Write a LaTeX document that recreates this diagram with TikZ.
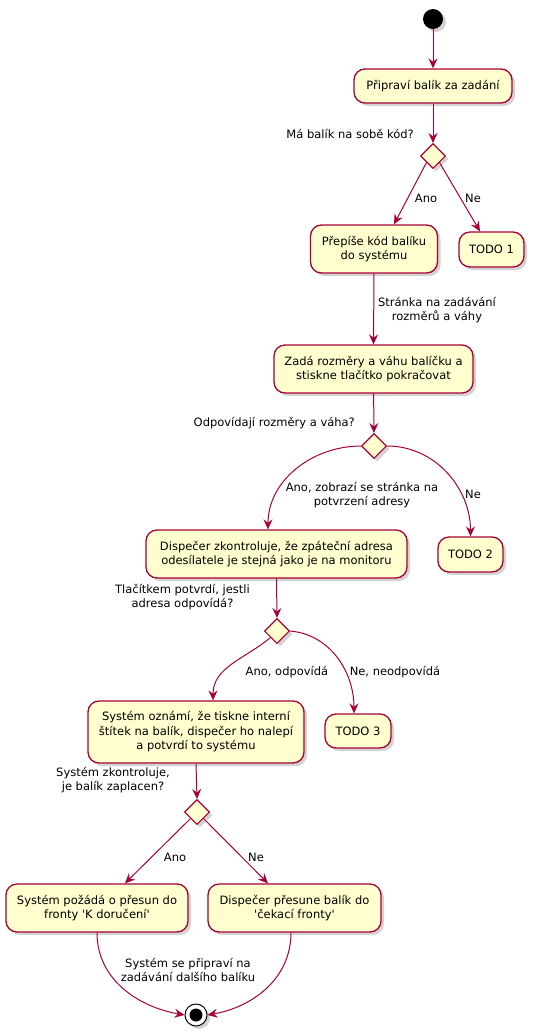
\documentclass[tikz,border=0pt]{standalone}
\usepackage{fontspec}
\setmainfont{DejaVu Sans}
\usetikzlibrary{shapes.geometric,arrows.meta,shadows}
\definecolor{pborder}{HTML}{A80036}
\definecolor{pfill}{HTML}{FEFECE}
\tikzset{
  act/.style={draw=pborder, fill=pfill, line width=1.3pt, rounded corners=11pt, align=center,
    inner sep=0pt, font=\fontsize{11.5}{14.5}\selectfont,
    drop shadow={opacity=0.35, shadow xshift=3pt, shadow yshift=-3pt}},
  decis/.style={diamond, draw=pborder, fill=pfill, line width=1.1pt, minimum width=25pt, minimum height=25pt,
    inner sep=0pt, drop shadow={opacity=0.35, shadow xshift=3pt, shadow yshift=-3pt}},
  conn/.style={draw=pborder, line width=1pt, -{Stealth[length=10pt,width=9pt,inset=3.5pt]}},
  lbl/.style={align=center, inner sep=0pt, font=\fontsize{11.5}{14.5}\selectfont},
}
\begin{document}
\begin{tikzpicture}[x=1pt,y=-1pt]
\useasboundingbox (0,0) rectangle (544,1034);
% start
\node[circle, fill=black, minimum size=20pt, inner sep=0pt, drop shadow={opacity=0.35, shadow xshift=3pt, shadow yshift=-3pt}] (start) at (433,19) {};
\node[act, minimum width=158pt, minimum height=34pt] (b1) at (433,86) {Připraví balík za zadání};
\node[decis] (d1) at (433,156) {};
\node[lbl, anchor=east] (q1) at (414,134) {Má balík na sobě kód?};
\node[act, minimum width=127pt, minimum height=48pt] (b2) at (374,249) {Přepíše kód balíku\\do systému};
\node[act, minimum width=65pt, minimum height=35pt] (t1) at (491.5,249.5) {TODO 1};
\node[lbl] (l1a) at (426,198) {Ano};
\node[lbl] (l1b) at (473,198) {Ne};
\node[lbl] (l2) at (437,310) {Stránka na zadávání\\rozměrů a váhy};
\node[act, minimum width=199pt, minimum height=48pt] (b3) at (373.5,369) {Zadá rozměry a váhu balíčku a\\stiskne tlačítko pokračovat};
\node[decis] (d2) at (374,446) {};
\node[lbl, anchor=east] (q2) at (355,423) {Odpovídají rozměry a váha?};
\node[act, minimum width=261pt, minimum height=48pt] (b4) at (276.5,554) {Dispečer zkontroluje, že zpáteční adresa\\odesílatele je stejná jako je na monitoru};
\node[act, minimum width=65pt, minimum height=35pt] (t2) at (470.5,554.5) {TODO 2};
\node[lbl] (l3a) at (362,495) {Ano, zobrazí se stránka na\\potvrzení adresy};
\node[lbl] (l3b) at (473,494) {Ne};
\node[lbl] (q3) at (182.5,597) {Tlačítkem potvrdí, jestli\\adresa odpovídá?};
\node[decis] (d3) at (277,631) {};
\node[act, minimum width=216pt, minimum height=62pt] (b5) at (196,732) {Systém oznámí, že tiskne interní\\štítek na balík, dispečer ho nalepí\\a potvrdí to systému};
\node[act, minimum width=66pt, minimum height=34pt] (t3) at (358,731) {TODO 3};
\node[lbl] (l4a) at (287,672) {Ano, odpovídá};
\node[lbl] (l4b) at (395,672) {Ne, neodpovídá};
\node[lbl] (q4) at (113,780) {Systém zkontroluje,\\je balík zaplacen?};
\node[decis] (d4) at (197,812) {};
\node[lbl] (l5a) at (175,857) {Ano};
\node[lbl] (l5b) at (256,857) {Ne};
\node[act, minimum width=182pt, minimum height=48pt] (b6) at (97,908) {Systém požádá o přesun do\\fronty \textquotesingle K doručení\textquotesingle};
\node[act, minimum width=173pt, minimum height=48pt] (b7) at (294.5,908) {Dispečer přesune balík do\\\textquotesingle čekací fronty\textquotesingle};
\node[lbl] (l6) at (188,970) {Systém se připraví na\\zadávání dalšího balíku};
% end
\node[circle, draw=black, fill=white, line width=1pt, minimum size=22pt, inner sep=0pt, drop shadow={opacity=0.35, shadow xshift=3pt, shadow yshift=-3pt}] (end) at (196,1015) {};
\fill[black] (end.center) circle (6.5pt);
% connectors
\draw[conn] (start) -- (b1);
\draw[conn] (b1) -- (d1);
\draw[conn] (d1.south west) -- ([xshift=20pt]b2.north);
\draw[conn] (d1.south east) -- ([xshift=-11.5pt]t1.north);
\draw[conn] (b2.south) -- (b3.north);
\draw[conn] (b3) -- (d2);
\draw[conn] (d2.west) to[out=180,in=90] ([xshift=-8.5pt]b4.north);
\draw[conn] (d2.east) to[out=0,in=90] (t2.north);
\draw[conn] (b4.south) -- (d3.north);
\draw[conn] (d3.south west) to[out=220,in=90] ([xshift=17pt]b5.north);
\draw[conn] (d3.east) to[out=-5,in=90] ([xshift=-4pt]t3.north);
\draw[conn] (b5.south) -- (d4.north);
\draw[conn] (d4.south west) -- ([xshift=28pt]b6.north);
\draw[conn] (d4.south east) -- ([xshift=-26.5pt]b7.north);
\draw[conn] (b6.south) to[out=-90,in=170] (end.west);
\draw[conn] ([xshift=-3.5pt]b7.south) to[out=-90,in=10] (end.east);
\end{tikzpicture}
\end{document}
